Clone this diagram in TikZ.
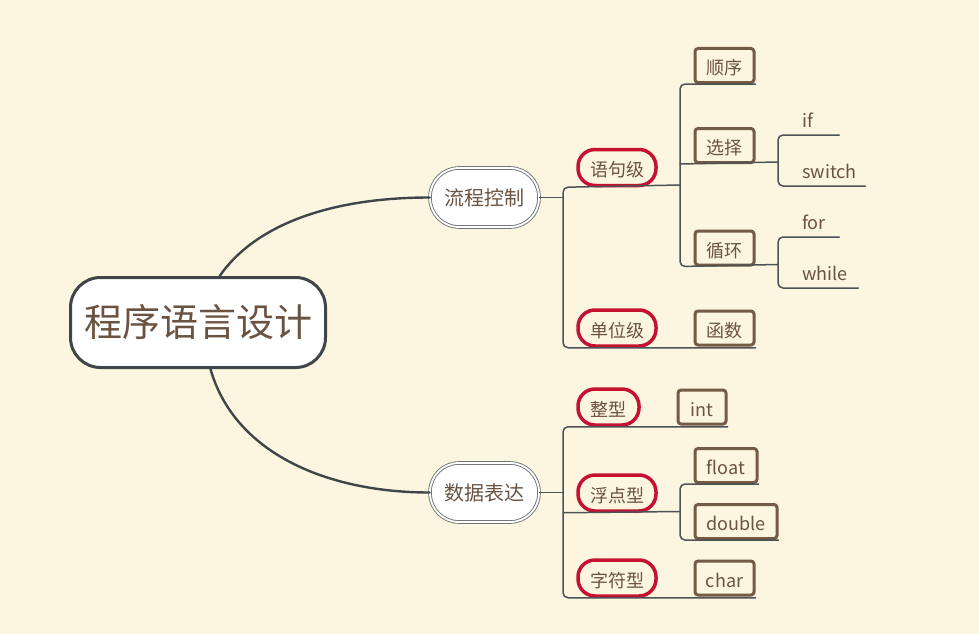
\documentclass[tikz,border=0pt]{standalone}
\usepackage{fontspec}
\setmainfont{Noto Sans CJK SC}
\usetikzlibrary{arrows.meta,positioning,calc}
\definecolor{bgcream}{HTML}{FCF5DF}
\definecolor{txtbrown}{HTML}{6A5341}
\definecolor{rootgrey}{HTML}{3F4549}
\definecolor{linegrey}{HTML}{4D5257}
\definecolor{topicred}{HTML}{C41230}
\definecolor{boxbrown}{HTML}{735B45}
\tikzset{
  every picture/.style={line join=round, line cap=round},
  conn/.style={draw=linegrey, line width=1.5pt},
  trunk/.style={draw=rootgrey, line width=2.4pt},
  rootbox/.style={draw=rootgrey, line width=3pt, fill=white, rounded corners=30pt,
    minimum width=255pt, minimum height=90pt, text=txtbrown, font=\fontsize{38}{40}\selectfont},
  mainbox/.style={draw=linegrey!80, double=white, double distance=1.8pt, line width=0.9pt,
    fill=white, rounded corners=29pt, minimum width=109pt, minimum height=59pt,
    text=txtbrown, font=\fontsize{20}{22}\selectfont, text height=16pt, text depth=0pt},
  redbox/.style={draw=topicred, line width=3.5pt, fill=bgcream, rounded corners=17pt,
    minimum width=#1, minimum height=36pt, text=txtbrown,
    font=\fontsize{18}{20}\selectfont, text height=18pt, text depth=0pt},
  redbox/.default=78pt,
  brownbox/.style={draw=boxbrown, line width=3pt, fill=bgcream, rounded corners=3pt,
    minimum width=#1, minimum height=34pt, text=txtbrown,
    font=\fontsize{18}{20}\selectfont, text height=18pt, text depth=0pt},
  brownbox/.default=59pt,
  leaf/.style={text width=#1, align=left, inner xsep=12pt, inner ysep=4pt,
    anchor=south west, text=txtbrown, font=\fontsize{18}{20}\selectfont,
    text height=13pt, text depth=3pt},
}
\begin{document}
\begin{tikzpicture}[x=1pt,y=-1pt]
\fill[bgcream] (0,0) rectangle (979,634);
\useasboundingbox (0,0) rectangle (979,634);

\node[rootbox] (root) at (198,322.5) {程序语言设计};
\node[mainbox] (liucheng) at (484.5,197.5) {流程控制};
\node[mainbox] (shuju) at (484.5,492.5) {数据表达};

\node[redbox] (yuju) at (617,167.5) {语句级};
\node[redbox] (danwei) at (617,328) {单位级};
\node[redbox=61pt] (zhengxing) at (608.5,407) {整型};
\node[redbox] (fudian) at (617,493) {浮点型};
\node[redbox] (zifu) at (617,578) {字符型};

\node[brownbox] (shunxu) at (724.5,65.5) {顺序};
\node[brownbox] (xuanze) at (724.5,145.5) {选择};
\node[brownbox] (xunhuan) at (724.5,248) {循环};
\node[brownbox] (hanshu) at (724.5,328) {函数};
\node[brownbox=48pt] (tint) at (702,407) {int};
\node[brownbox=62pt] (tfloat) at (726,465.5) {float};
\node[brownbox=82pt] (tdouble) at (736,521.5) {double};
\node[brownbox] (tchar) at (724.5,578) {char};

\node[leaf=25pt] (lif) at (790,135) {if};
\node[leaf=51pt] (lswitch) at (790,186) {switch};
\node[leaf=25pt] (lfor) at (790,237) {for};
\node[leaf=44pt] (lwhile) at (790,288) {while};

\coordinate (j1) at (563,197.5);
\coordinate (j2) at (680,185);
\coordinate (j3) at (778,162);
\coordinate (j4) at (778,264.5);
\coordinate (k1) at (563,492.5);
\coordinate (k2) at (680,511.5);

\draw[trunk] (root.65) .. controls (255,225) and (330,197.5) .. (liucheng.west);
\draw[trunk] (root.-75) .. controls (235,455) and (330,492.5) .. (shuju.west);

\draw[conn] (liucheng.east) -- (j1);
\draw[conn,rounded corners=5pt] (j2) -- (j1 |- yuju.south) -- (j1 |- danwei.south) -- (hanshu.south east |- danwei.south);
\draw[conn,rounded corners=5pt] (shunxu.south east) -- (j2 |- shunxu.south) -- (j2 |- xunhuan.south) -- (j4);
\draw[conn] (j2 |- xuanze.south) -- (j3);
\draw[conn,rounded corners=5pt] (lif.south east) -- (j3 |- lif.south) -- (j3 |- lswitch.south) -- (lswitch.south east);
\draw[conn,rounded corners=5pt] (lfor.south east) -- (j4 |- lfor.south) -- (j4 |- lwhile.south) -- (lwhile.south east);

\draw[conn] (shuju.east) -- (k1);
\draw[conn,rounded corners=5pt] (tint.south east |- zhengxing.south) -- (k1 |- zhengxing.south) -- (k1 |- zifu.south) -- (tchar.south east |- zifu.south);
\draw[conn] (k1 |- fudian.south) -- (k2);
\draw[conn,rounded corners=5pt] (tfloat.south east) -- (k2 |- tfloat.south) -- (k2 |- tdouble.south) -- (tdouble.south east);
\end{tikzpicture}
\end{document}
